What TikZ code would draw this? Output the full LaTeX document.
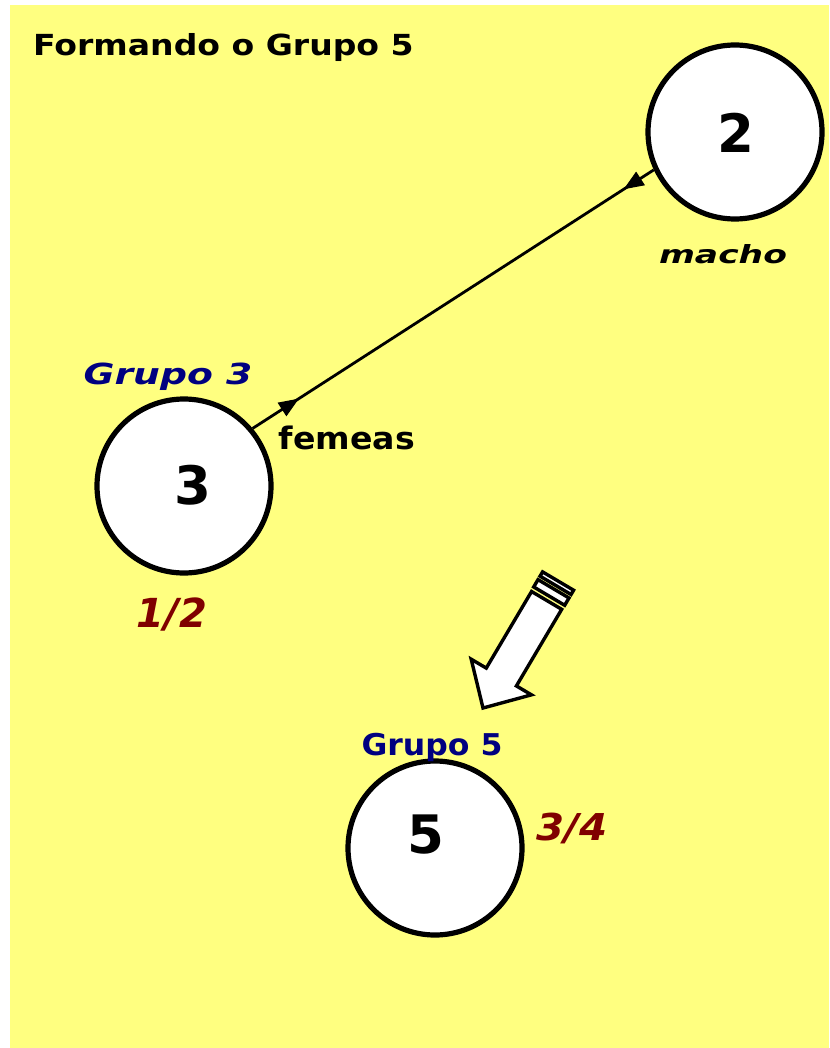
\documentclass[tikz,border=0pt]{standalone}
\usepackage{fontspec}
\setmainfont{DejaVu Sans}
\usepackage{graphicx}
\usetikzlibrary{arrows.meta,decorations.markings}
\definecolor{pad}{RGB}{255,255,128}
\definecolor{navy}{RGB}{0,0,128}
\definecolor{maroon}{RGB}{128,0,0}
\newcommand{\stretchx}[2]{\scalebox{#1}[1]{#2}}
\tikzset{
  grp/.style={circle, draw, line width=5.2pt, fill=white, minimum size=174pt, inner sep=0pt},
  txt/.style={inner sep=0pt, anchor=base},
  num/.style={txt, font=\fontsize{53}{53}\selectfont\bfseries},
}
\begin{document}
\begin{tikzpicture}[x=1pt,y=-1pt]
    \useasboundingbox (0,0) rectangle (829,1048);
    \fill [pad] (10,5) rectangle (829,1048);
    \node [txt, anchor=base west, font=\fontsize{29}{29}\selectfont\bfseries] (title) at (33,56) {\stretchx{1.14}{Formando o Grupo 5}};
    % the three groups
    \node [grp] (c2) at (735,132) {};
    \node [grp] (c3) at (184,486) {};
    \node [grp] (c5) at (435,848) {};
    \node [num] (n2) at (736,153) {2};
    \node [num] (n3) at (193,504) {3};
    \node [num] (n5) at (426,853) {5};
    \node [txt, font=\fontsize{25}{25}\selectfont\bfseries\itshape] (macho) at (723,264) {\stretchx{1.38}{macho}};
    \node [txt, navy, font=\fontsize{29}{29}\selectfont\bfseries\itshape] (g3) at (168,384) {\stretchx{1.3}{Grupo 3}};
    \node [txt, font=\fontsize{31}{31}\selectfont\bfseries] (femeas) at (347,449) {\stretchx{1.07}{femeas}};
    \node [txt, maroon, font=\fontsize{40}{40}\selectfont\bfseries\itshape] (r3) at (172,627) {1/2};
    \node [txt, navy, font=\fontsize{30}{30}\selectfont\bfseries] (g5) at (432,755) {\stretchx{1.05}{Grupo 5}};
    \node [txt, maroon, font=\fontsize{37}{37}\selectfont\bfseries\itshape] (r5) at (572,840) {\stretchx{1.09}{3/4}};
    % crossing
    \draw [line width=2.8pt, decoration={markings,
        mark=at position 0.075 with {\arrow[line width=1pt]{Triangle[length=20pt,width=16pt]}},
        mark=at position 0.885 with {\arrowreversed[line width=1pt]{Triangle[length=20pt,width=16pt]}}},
      postaction={decorate}] (c2.205) -- (c3.40);
    % hollow arrow
    \begin{scope}[shift={(483,708)}, rotate=59.4, line width=3.4pt, fill=white]
      \filldraw (0,0) -- (36,-35) -- (36,-17.5) -- (125,-17.5) -- (125,17.5) -- (36,17.5) -- (36,35) -- cycle;
      \filldraw (130,-18) rectangle (138.5,18);
      \filldraw (142.5,-18) rectangle (147.5,18);
    \end{scope}
\end{tikzpicture}
\end{document}
